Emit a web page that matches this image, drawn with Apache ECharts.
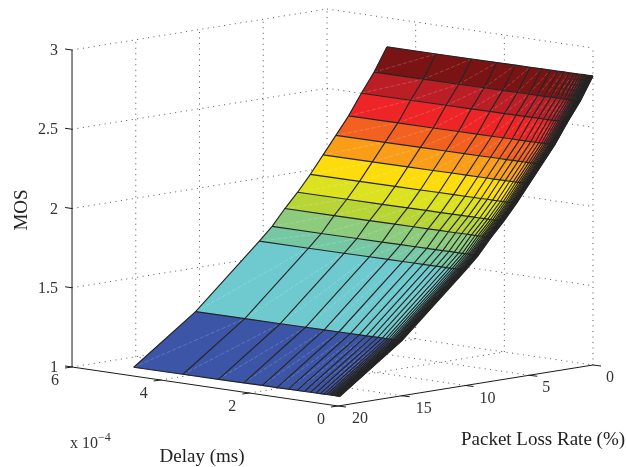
<!DOCTYPE html>
<html><head><meta charset="utf-8">
<style>html,body{margin:0;padding:0;background:#fff}#c{width:627px;height:467px}</style>
<script src="https://cdn.jsdelivr.net/npm/echarts@6/dist/echarts.min.js"></script>
</head><body><div id="c"></div>
<script>
// values
const lossRates = [0,1,2,3,4,5,6,7,8,9,10,15,19.85];
const mosByLoss = [2.816,2.67,2.55,2.42,2.31,2.20,2.09,1.99,1.90,1.80,1.72,1.34,1.052];
const delays = [4.65,3.54,2.74,2.17,1.75,1.42,1.16,0.96,0.80,0.66,0.54,0.44,0.36,0.30,0.25,0.21,0.18,0.155,0.13,0.11,0.095,0.08,0.07,0.06,0.05,0.04,0.03,0.02,0.01,0];
const mosGainByDelay = [0,0.001,0.002,0.003,0.004,0.004,0.005,0.005,0.005,0.006,0.006,0.006,0.006,0.006,0.007,0.007,0.007,0.007,0.007,0.007,0.007,0.007,0.007,0.007,0.007,0.007,0.007,0.007,0.007,0.007];
const rowColors = ['#7a1414','#bc1e26','#ee2526','#f36120','#fa9e1a','#fddc0d','#dce120','#b8d538','#8dcb7d','#76c8a4','#6ecacf','#3c55a7'];
const mosTicks = [1,1.5,2,2.5,3];
const mosTickLabels = ['1','1.5','2','2.5','3'];
const delayTicks = [0,2,4,6];
const lossTicks = [0,5,10,15,20];

// view projection (orthographic) of the 3-D box onto the page plane
const O = [338,406];
function proj(d,L,z){
  return [O[0]-44.33*d+12.75*(20-L), O[1]-6.5*d-2.05*(20-L)-158.5*(z-1)];
}
const D=6, Lm=20, Z0=1, Z1=3;

// surface cells
const cells=[];
for(let i=0;i<lossRates.length-1;i++){
  for(let j=0;j<delays.length-1;j++){
    cells.push([i,j]);
  }
}
// mesh lines: one per loss rate, one per delay
const meshLines=[];
lossRates.forEach((_,i)=>meshLines.push(['row',i]));
delays.forEach((_,j)=>meshLines.push(['col',j]));
// wall / floor grid segments: [d0,L0,z0,d1,L1,z1]
const gridSegs=[];
mosTicks.forEach(z=>{
  gridSegs.push([D,Lm,z,D,0,z]);
  gridSegs.push([D,0,z,0,0,z]);
});
lossTicks.forEach(L=>{
  if(L!==Lm) gridSegs.push([D,L,Z0,D,L,Z1]);
  if(L!==Lm && L!==0) gridSegs.push([0,L,Z0,D,L,Z0]);
});
delayTicks.forEach(d=>{
  if(d!==D) gridSegs.push([d,0,Z0,d,0,Z1]);
  if(d!==D && d!==0) gridSegs.push([d,Lm,Z0,d,0,Z0]);
});
// solid axes
const axisSegs=[
 [D,Lm,Z0,0,Lm,Z0],[0,Lm,Z0,0,0,Z0],[D,Lm,Z0,D,Lm,Z1]
];

const P=(api,p)=>api.coord(p);
const lineEl=(a,b,style)=>({type:'line',shape:{x1:a[0],y1:a[1],x2:b[0],y2:b[1]},style,silent:true});
const surfPt=(api,ii,jj)=>P(api,proj(delays[jj],lossRates[ii],mosByLoss[ii]+mosGainByDelay[jj]));

const option={
 animation:false,
 grid:{left:0,right:0,top:0,bottom:0},
 xAxis:{type:'value',min:0,max:627,show:false},
 yAxis:{type:'value',min:0,max:467,inverse:true,show:false},
 textStyle:{fontFamily:'"Liberation Serif"'},
 series:[
  {type:'custom',name:'grid',coordinateSystem:'cartesian2d',silent:true,z:1,
   data:gridSegs,
   renderItem:(p,api)=>{
     const s=gridSegs[p.dataIndex];
     return lineEl(P(api,proj(s[0],s[1],s[2])),P(api,proj(s[3],s[4],s[5])),
       {stroke:'#555',lineWidth:1,lineDash:[1,4.5]});
   }},
  {type:'custom',name:'MOS',coordinateSystem:'cartesian2d',silent:true,z:2,
   data:cells,
   renderItem:(p,api)=>{
     const [i,j]=cells[p.dataIndex];
     const a=surfPt(api,i,j),b=surfPt(api,i,j+1),e=surfPt(api,i+1,j+1),f=surfPt(api,i+1,j);
     return {type:'group',children:[
       {type:'polygon',shape:{points:[a,b,e,f]},
        style:{fill:rowColors[i],stroke:rowColors[i],lineWidth:0.5}},
       {type:'line',shape:{x1:f[0],y1:f[1],x2:b[0],y2:b[1]},
        style:{stroke:'rgba(255,255,255,0.24)',lineWidth:0.8,lineDash:[4,2]}}
     ]};
   }},
  {type:'custom',name:'mesh',coordinateSystem:'cartesian2d',silent:true,z:3,
   data:meshLines,
   renderItem:(p,api)=>{
     const [kind,k]=meshLines[p.dataIndex];
     const points=kind==='row'
       ? delays.map((_,j)=>surfPt(api,k,j))
       : lossRates.map((_,i)=>surfPt(api,i,k));
     return {type:'polyline',shape:{points},silent:true,
       style:{stroke:'#242424',lineWidth:1.15,fill:'none',lineJoin:'round'}};
   }},
  {type:'custom',name:'axes',coordinateSystem:'cartesian2d',silent:true,z:4,
   data:axisSegs.concat([0]),
   renderItem:(p,api)=>{
     if(p.dataIndex<axisSegs.length){
       const s=axisSegs[p.dataIndex];
       return lineEl(P(api,proj(s[0],s[1],s[2])),P(api,proj(s[3],s[4],s[5])),{stroke:'#1a1a1a',lineWidth:1});
     }
     const kids=[];
     const tick=(a,dx,dy)=>kids.push(lineEl(a,[a[0]+dx,a[1]+dy],{stroke:'#1a1a1a',lineWidth:1}));
     const txt=(t,x,y,align)=>kids.push({type:'text',x,y,style:{text:t,fill:'#333',font:'16px "Liberation Serif"',align:align||'center',verticalAlign:'middle'},silent:true});
     mosTicks.forEach((z,k)=>{
       const a=P(api,proj(D,Lm,z)); tick(a,-7,-1);
       txt(mosTickLabels[k],a[0]-14,a[1]+1,'right');
     });
     delayTicks.forEach(d=>{
       const a=P(api,proj(d,Lm,Z0)); tick(a,-7,1);
       txt(String(d),a[0]-17,a[1]+13.5);
     });
     lossTicks.forEach(L=>{
       const a=P(api,proj(0,L,Z0)); tick(a,8,1);
       txt(String(L),a[0]+(L>=10?22:17),a[1]+13);
     });
     return {type:'group',children:kids};
   }}
 ],
 graphic:[
  {type:'text',x:22,y:210,rotation:Math.PI/2,style:{text:'MOS',font:'19px "Liberation Serif"',fill:'#222',align:'center',verticalAlign:'middle'}},
  {type:'text',x:202,y:457,style:{text:'Delay (ms)',font:'19px "Liberation Serif"',fill:'#222',align:'center',verticalAlign:'middle'}},
  {type:'text',x:543,y:440,style:{text:'Packet Loss Rate (%)',font:'19px "Liberation Serif"',fill:'#222',align:'center',verticalAlign:'middle'}},
  {type:'text',x:70,y:444,style:{text:'x 10',font:'16px "Liberation Serif"',fill:'#333',align:'left',verticalAlign:'middle'}},
  {type:'text',x:98,y:438,style:{text:'\u22124',font:'12px "Liberation Serif"',fill:'#333',align:'left',verticalAlign:'middle'}}
 ]
};
const chart=echarts.init(document.getElementById('c'),null,{renderer:'canvas',width:627,height:467});
chart.setOption(option);
</script>
</body></html>
